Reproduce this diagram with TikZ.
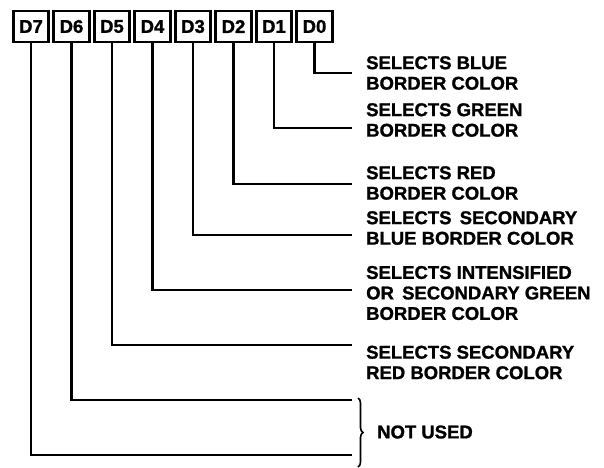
\documentclass[tikz,border=0pt]{standalone}
\usepackage{fontspec}
\setmainfont{Liberation Sans}[BoldFeatures={FakeBold=1.2}]
\usepackage{tikz}
\usetikzlibrary{positioning,decorations.pathreplacing}

\begin{document}
\begin{tikzpicture}[
  x=1pt, y=-1pt,
  font=\fontsize{18.5}{20.5}\selectfont\bfseries,
  bitbox/.style={draw, line width=2.6pt, minimum width=35.5pt,
    minimum height=31pt, inner sep=0pt},
  desc/.style={anchor=west, align=left, inner sep=0pt},
  wire/.style={line width=2.2pt, line join=miter}
]
  \useasboundingbox (0,0) rectangle (604,467);

  % register bits
  \node[bitbox] (d7) at (31,26.5) {D7};
  \node[bitbox, right=2.4pt of d7] (d6) {D6};
  \node[bitbox, right=2.4pt of d6] (d5) {D5};
  \node[bitbox, right=2.4pt of d5] (d4) {D4};
  \node[bitbox, right=2.4pt of d4] (d3) {D3};
  \node[bitbox, right=2.4pt of d3] (d2) {D2};
  \node[bitbox, right=2.4pt of d2] (d1) {D1};
  \node[bitbox, right=2.4pt of d1] (d0) {D0};

  % descriptions
  \node[desc] (blue) at (366,73) {SELECTS BLUE\\BORDER COLOR};
  \node[desc] (green) at (366,120) {SELECTS GREEN\\BORDER COLOR};
  \node[desc] (red) at (366,183) {SELECTS RED\\BORDER COLOR};
  \node[desc] (sblue) at (366,228) {SELECTS\, SECONDARY\\BLUE BORDER COLOR};
  \node[desc] (sgreen) at (366,293) {SELECTS INTENSIFIED\\OR\, SECONDARY GREEN\\BORDER COLOR};
  \node[desc] (sred) at (366,362.5) {SELECTS SECONDARY\\RED BORDER COLOR};
  \node[desc] (unused) at (377,432) {NOT USED};

  % line ends
  \coordinate (e0) at (352,73);
  \coordinate (e1) at (352,128);
  \coordinate (e2) at (352,184);
  \coordinate (e3) at (352,235);
  \coordinate (e4) at (352,290);
  \coordinate (e5) at (352,345);
  \coordinate (e6) at (352,400);
  \coordinate (e7) at (352,455);

  \draw[wire] (d0.south) |- (e0);
  \draw[wire] (d1.south) |- (e1);
  \draw[wire] (d2.south) |- (e2);
  \draw[wire] (d3.south) |- (e3);
  \draw[wire] (d4.south) |- (e4);
  \draw[wire] (d5.south) |- (e5);
  \draw[wire] (d6.south) |- (e6);
  \draw[wire] (d7.south) |- (e7);

  % brace for unused bits
  \coordinate (bt) at (358,398);
  \coordinate (bb) at (358,467);
  \draw[line width=1.6pt, decorate, decoration={brace, amplitude=5pt}] (bt) -- (bb);
\end{tikzpicture}
\end{document}
